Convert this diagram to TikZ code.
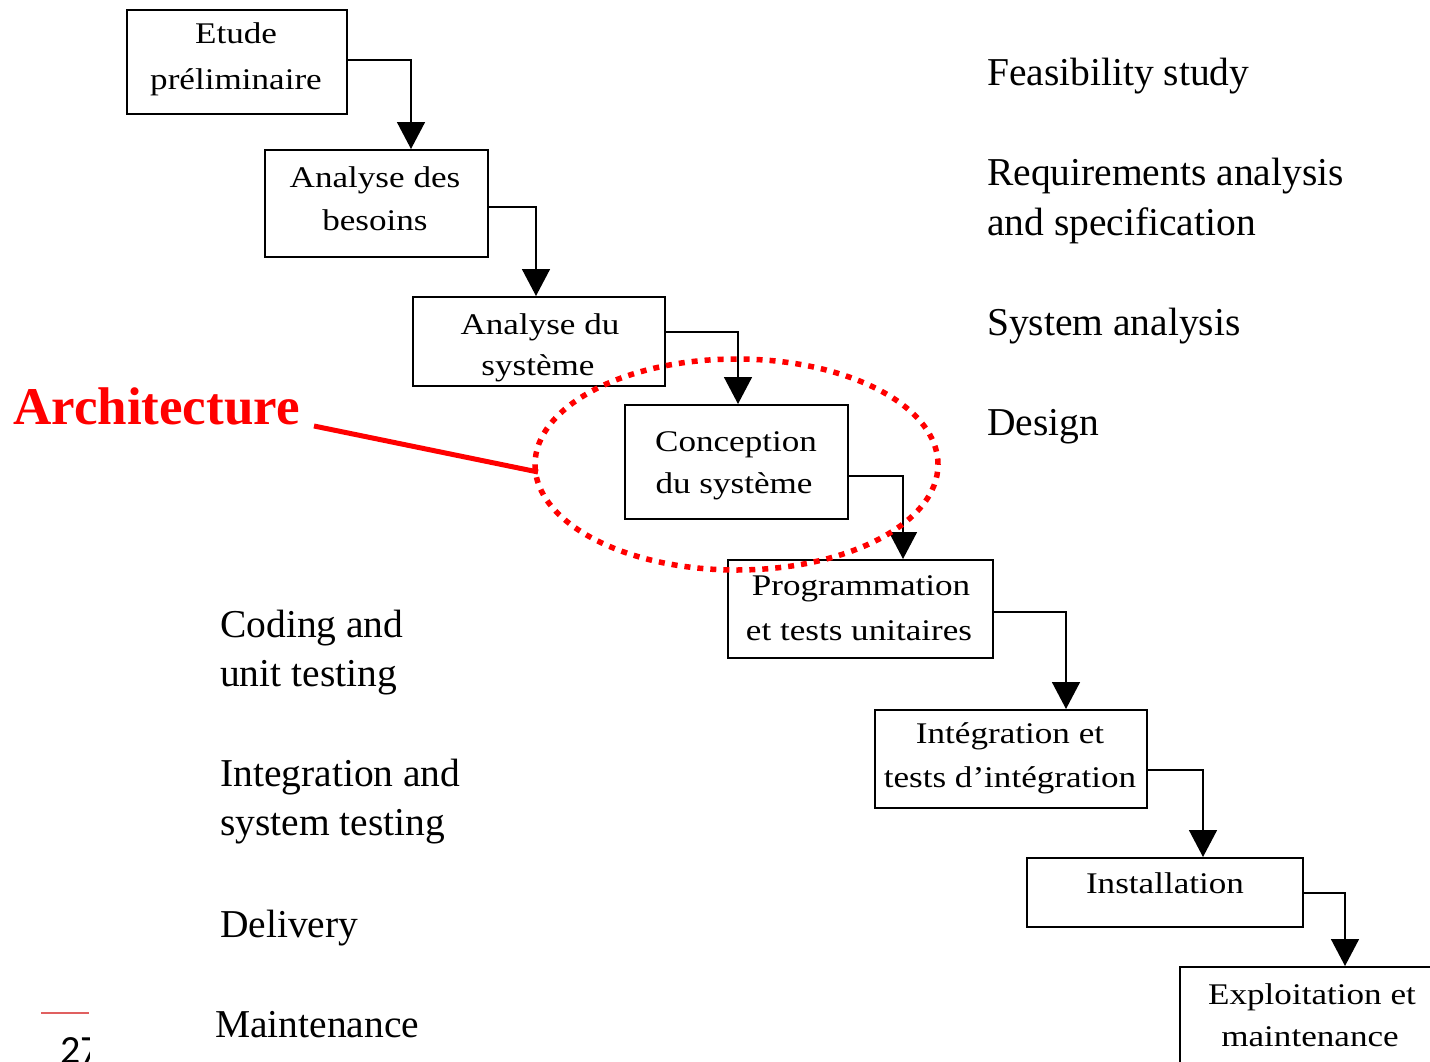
\documentclass[tikz,border=0pt]{standalone}
\usepackage{fontspec}
\setmainfont{Liberation Serif}
\newfontfamily\boxfont[FakeStretch=1.17]{Liberation Serif}
\newfontfamily\numfont{Carlito}
\usetikzlibrary{arrows.meta,calc,shapes.geometric}
\definecolor{archred}{RGB}{255,0,0}
\definecolor{pinkline}{RGB}{224,96,96}
\tikzset{
  stagebox/.style={draw=black, line width=1.6pt, rectangle, inner sep=0pt, anchor=north west},
  boxtxt/.style={anchor=base, inner sep=0pt, font=\boxfont\fontsize{30}{36}\selectfont},
  engtxt/.style={anchor=base west, inner sep=0pt, font=\fontsize{39.5}{48}\selectfont},
  conn/.style={draw=black, line width=1.6pt, -{Triangle[length=27pt,width=28pt]}},
}
\begin{document}
\begin{tikzpicture}[x=1pt,y=-1pt]
\useasboundingbox (0,0) rectangle (1430,1061);
% boxes
\node[stagebox, minimum width=220pt, minimum height=104pt] (b1) at (126,9) {};
\node[stagebox, minimum width=223pt, minimum height=107pt] (b2) at (264,149) {};
\node[stagebox, minimum width=252pt, minimum height=89pt] (b3) at (412,296) {};
\node[stagebox, minimum width=223pt, minimum height=114pt] (b4) at (624,404) {};
\node[stagebox, minimum width=265pt, minimum height=98pt] (b5) at (727,559) {};
\node[stagebox, minimum width=272pt, minimum height=98pt] (b6) at (874,709) {};
\node[stagebox, minimum width=276pt, minimum height=69pt] (b7) at (1026,857) {};
\node[stagebox, minimum width=270pt, minimum height=120pt] (b8) at (1179,966) {};
% box texts
\node[boxtxt] (t1a) at (236,43) {Etude};
\node[boxtxt] (t1b) at (236,89) {préliminaire};
\node[boxtxt] (t2a) at (375,187) {Analyse des};
\node[boxtxt] (t2b) at (375,230) {besoins};
\node[boxtxt] (t3a) at (540,334) {Analyse du};
\node[boxtxt] (t3b) at (538,375) {système};
\node[boxtxt] (t4a) at (736,451) {Conception};
\node[boxtxt] (t4b) at (734,493) {du système};
\node[boxtxt] (t5a) at (861,595) {Programmation};
\node[boxtxt] (t5b) at (859,640) {et tests unitaires};
\node[boxtxt] (t6a) at (1010,743) {Intégration et};
\node[boxtxt] (t6b) at (1010,787) {tests d’intégration};
\node[boxtxt] (t7) at (1165,893) {Installation};
\node[boxtxt] (t8a) at (1312,1004) {Exploitation et};
\node[boxtxt] (t8b) at (1310,1046) {maintenance};
% connectors
\draw[conn] ($(b1.north east)+(0,51)$) -| ($(b2.north west)+(147,0)$);
\draw[conn] ($(b2.north east)+(0,58)$) -| ($(b3.north west)+(124,0)$);
\draw[conn] ($(b3.north east)+(0,36)$) -| ($(b4.north west)+(114,0)$);
\draw[conn] ($(b4.north east)+(0,72)$) -| ($(b5.north west)+(176,0)$);
\draw[conn] ($(b5.north east)+(0,53)$) -| ($(b6.north west)+(192,0)$);
\draw[conn] ($(b6.north east)+(0,61)$) -| ($(b7.north west)+(177,0)$);
\draw[conn] ($(b7.north east)+(0,36)$) -| ($(b8.north west)+(166,0)$);
% english labels right
\node[engtxt] (e1) at (987,85) {Feasibility study};
\node[engtxt] (e2a) at (987,185) {Requirements analysis};
\node[engtxt] (e2b) at (987,235) {and specification};
\node[engtxt] (e3) at (987,335) {System analysis};
\node[engtxt] (e4) at (987,435) {Design};
% english labels left
\node[engtxt] (e5a) at (220,637) {Coding and};
\node[engtxt] (e5b) at (220,686) {unit testing};
\node[engtxt] (e6a) at (220,786) {Integration and};
\node[engtxt] (e6b) at (220,835) {system testing};
\node[engtxt] (e7) at (220,937) {Delivery};
\node[engtxt] (e8) at (215,1037) {Maintenance};
% architecture highlight
\node[draw=archred, ellipse, line width=5.5pt, dash pattern=on 6pt off 7pt, minimum width=403pt, minimum height=211pt, inner sep=0pt] (ell) at (736.5,464.5) {};
\node[anchor=base west, inner sep=0pt, text=archred, font=\bfseries\fontsize{53}{60}\selectfont] (arch) at (13,424) {Architecture};
\coordinate (archstart) at (314,426);
\coordinate (archend) at (538,472);
\draw[archred, line width=5pt] (archstart) -- (archend);
% footer
\coordinate (fl1) at (41,1013);
\coordinate (fl2) at (89,1013);
\draw[pinkline, line width=1.8pt] (fl1) -- (fl2);
\begin{scope}
\clip (0,990) rectangle (89,1061);
\node[anchor=base west, inner sep=0pt, font=\numfont\fontsize{40}{48}\selectfont] (pg) at (60,1063) {27};
\end{scope}
\end{tikzpicture}
\end{document}
